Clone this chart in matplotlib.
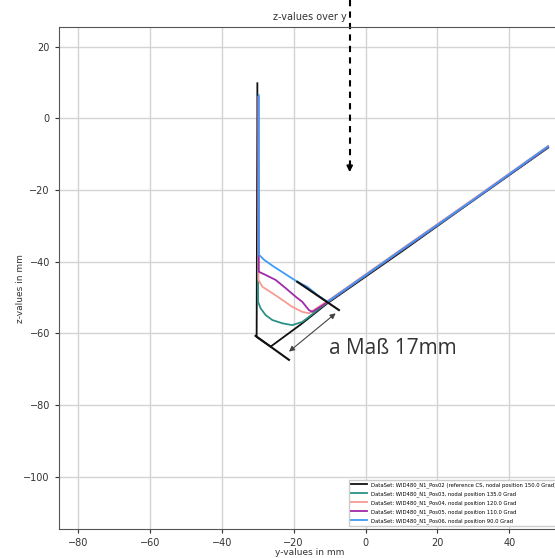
import matplotlib
matplotlib.use("Agg")
import matplotlib.pyplot as plt

# series: y-values / z-values in mm
ref_y = [-30.1, -30.1, -30.2, -30.3, -26.4, -18.0, -10.6, 10.0, 30.0, 50.8]
ref_z = [9.8, 0.0, -30.0, -61.0, -63.7, -57.5, -51.6, -37.2, -22.9, -8.2]

pos03_y = [-29.9, -29.9, -29.9, -29.2, -27.8, -25.9, -23.1, -20.4, -17.6, -15.75, -13.0, -10.6, 10.0, 30.0, 50.8]
pos03_z = [6.0, -10.0, -51.2, -53.0, -54.9, -56.3, -57.2, -57.7, -56.8, -55.4, -53.2, -51.4, -36.9, -22.9, -8.1]

pos04_y = [-29.8, -29.8, -29.8, -28.7, -25.9, -23.1, -20.4, -17.6, -15.75, -10.6, 10.0, 30.0, 50.8]
pos04_z = [6.0, -10.0, -45.1, -47.0, -48.8, -50.7, -52.6, -54.0, -54.4, -51.0, -36.5, -22.5, -7.7]

pos05_y = [-29.8, -29.8, -29.7, -27.8, -25.0, -22.2, -19.4, -17.6, -15.75, -14.8, -10.6, 10.0, 30.0, 50.8]
pos05_z = [6.0, -10.0, -42.8, -43.7, -45.1, -47.4, -49.8, -51.2, -53.5, -54.0, -51.3, -36.8, -22.8, -8.0]

pos06_y = [-29.7, -29.7, -29.6, -28.2, -25.5, -22.7, -19.0, -16.2, -13.4, -10.6, 10.0, 30.0, 50.8]
pos06_z = [6.5, -10.0, -38.1, -39.5, -41.4, -43.2, -45.6, -47.0, -49.3, -51.2, -36.7, -22.7, -7.8]

labels = [
    "DataSet: WID480_N1_Pos02 (reference CS, nodal position 150.0 Grad)",
    "DataSet: WID480_N1_Pos03, nodal position 135.0 Grad",
    "DataSet: WID480_N1_Pos04, nodal position 120.0 Grad",
    "DataSet: WID480_N1_Pos05, nodal position 110.0 Grad",
    "DataSet: WID480_N1_Pos06, nodal position 90.0 Grad",
]
colors = ["#111111", "#2a9285", "#f99a94", "#a02aa8", "#3f9bf5"]

# measurement markup (a-dimension)
ext_upper_y = [-19.0, -7.4]
ext_upper_z = [-45.6, -53.5]
ext_lower_y = [-30.6, -21.3]
ext_lower_z = [-60.7, -67.4]
dim_start = (-21.3, -65.1)
dim_end = (-8.3, -54.4)
dim_text = "a Maß 17mm"

view_y = -4.4
view_z = [33.0, -15.0]

fig = plt.figure(figsize=(5.55, 5.58), dpi=100)
ax = fig.add_axes([0.1063, 0.052, 0.9045, 0.8996])

series = [(ref_y, ref_z), (pos03_y, pos03_z), (pos04_y, pos04_z),
          (pos05_y, pos05_z), (pos06_y, pos06_z)]
for (yy, zz), lab, c in zip(series, labels, colors):
    ax.plot(yy, zz, color=c, lw=1.3, label=lab)

ax.plot(ext_upper_y, ext_upper_z, color="#111111", lw=1.5)
ax.plot(ext_lower_y, ext_lower_z, color="#111111", lw=1.5)
ax.annotate("", xy=dim_end, xytext=dim_start,
            arrowprops=dict(arrowstyle="<|-|>", color="#444444", lw=0.8,
                            mutation_scale=8, shrinkA=0, shrinkB=0))
ax.text(-10.3, -64.1, dim_text, fontsize=15, family="Open Sans",
        color="#333333", va="center", ha="left")

# dashed viewing direction arrow
ax.plot([view_y, view_y], [view_z[0], view_z[1] + 2], color="black",
        lw=1.5, ls=(0, (3, 2.5)), clip_on=False)
ax.annotate("", xy=(view_y, view_z[1]), xytext=(view_y, view_z[1] + 2.5),
            arrowprops=dict(arrowstyle="-|>", color="black", lw=1.2,
                            mutation_scale=9, shrinkA=0, shrinkB=0))

ax.set_xlim(-85.3, 54.4)
ax.set_ylim(-114.6, 25.5)
ax.set_xticks([-80, -60, -40, -20, 0, 20, 40])
ax.set_yticks([-100, -80, -60, -40, -20, 0, 20])
ax.grid(True, color="#d4d4d4", lw=1.0)
ax.set_axisbelow(True)
ax.tick_params(labelsize=7, colors="#333333", length=3)
for s in ax.spines.values():
    s.set_color("#555555")

ax.set_title("z-values over y", fontsize=7, color="#333333", pad=5)
ax.set_xlabel("y-values in mm", fontsize=6.5, color="#333333", labelpad=0)
ax.set_ylabel("z-values in mm", fontsize=6.5, color="#333333")
ax.yaxis.set_label_coords(-0.068, 0.478)

ax.legend(loc="lower left", bbox_to_anchor=(0.578, 0.006), fontsize=3.75,
          frameon=True, framealpha=1.0, edgecolor="#cccccc", fancybox=False,
          borderaxespad=0, handlelength=3, labelspacing=0.65)

fig.savefig("out.png", dpi=100)
